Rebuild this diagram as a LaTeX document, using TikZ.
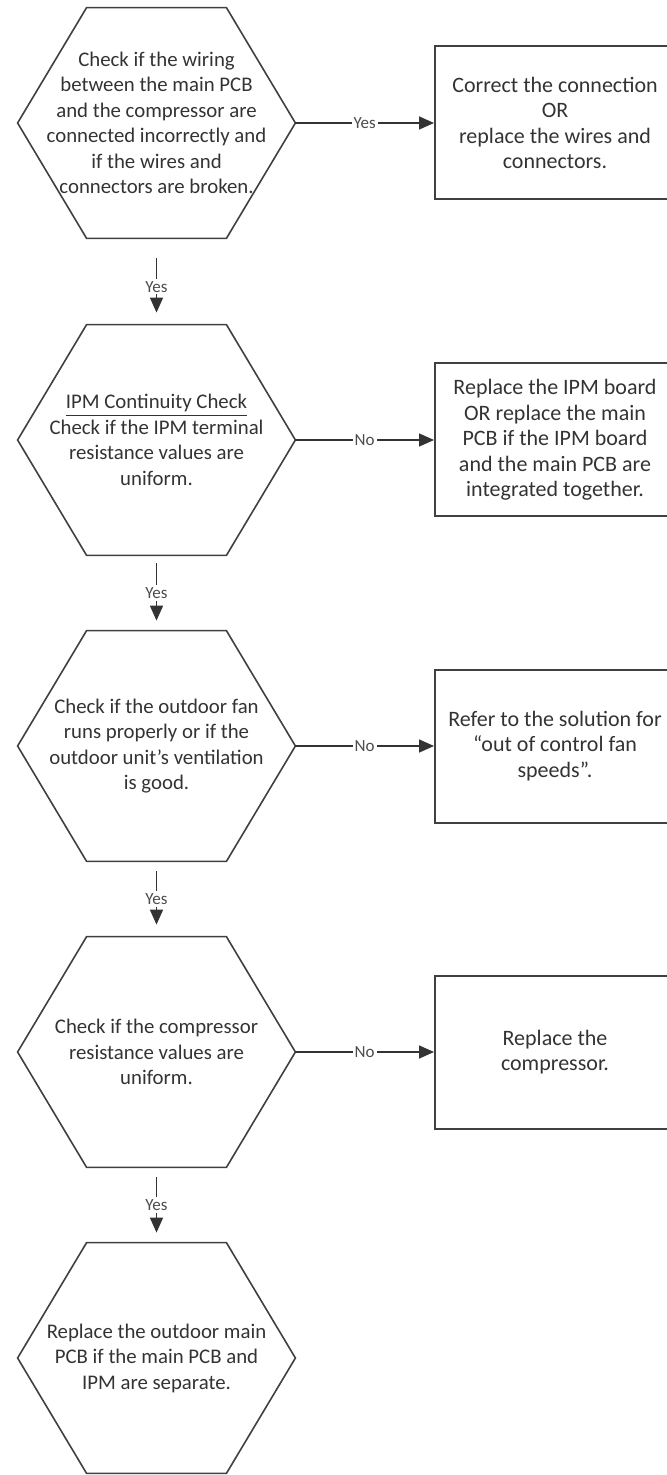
\documentclass[tikz,border=0pt]{standalone}
\usepackage{fontspec}
\setmainfont{Carlito}
\usetikzlibrary{arrows.meta}

\tikzset{
  hexnode/.style={minimum width=138.5pt, minimum height=115pt, align=center, inner sep=0pt,
    font=\fontsize{10.4}{12.75}\selectfont, text=black!80},
  hexline/.style={draw=black!75, line width=0.8pt},
  boxnode/.style={draw=black!75, line width=1pt, minimum width=120pt, minimum height=76.5pt,
    align=center, inner sep=0pt, font=\fontsize{11}{12.75}\selectfont, text=black!80},
  flow/.style={draw=black!80, line width=0.8pt, -{Triangle[length=7.5pt,width=6.5pt]}},
  tag/.style={fill=white, inner sep=1pt, font=\fontsize{8.5}{9}\selectfont, text=black!70},
}

\begin{document}
\begin{tikzpicture}[x=0.5pt, y=-0.5pt]
    \useasboundingbox (0,0) rectangle (667,1475);

    % checks
    \node[hexnode] (h1) at (156.5,123) {Check if the wiring\\between the main PCB\\and the compressor are\\connected incorrectly and\\if the wires and\\connectors are broken.};
    \node[hexnode] (h2) at (156.5,440) {\underline{IPM Continuity Check}\\Check if the IPM terminal\\resistance values are\\uniform.};
    \node[hexnode] (h3) at (156.5,746) {Check if the outdoor fan\\runs properly or if the\\outdoor unit's ventilation\\is good.};
    \node[hexnode] (h4) at (156.5,1052) {Check if the compressor\\resistance values are\\uniform.};
    \node[hexnode] (h5) at (156.5,1358) {Replace the outdoor main\\PCB if the main PCB and\\IPM are separate.};

    \foreach \h in {h1,h2,h3,h4,h5}
      \draw[hexline] (\h.west) -- ([xshift=34.5pt]\h.north west) -- ([xshift=-34.5pt]\h.north east)
        -- (\h.east) -- ([xshift=-34.5pt]\h.south east) -- ([xshift=34.5pt]\h.south west) -- cycle;

    % actions
    \node[boxnode] (b1) at (555,123) {Correct the connection\\OR\\replace the wires and\\connectors.};
    \node[boxnode] (b2) at (555,440) {Replace the IPM board\\OR replace the main\\PCB if the IPM board\\and the main PCB are\\integrated together.};
    \node[boxnode] (b3) at (555,746) {Refer to the solution for\\“out of control fan\\speeds”.};
    \node[boxnode] (b4) at (555,1052) {Replace the\\compressor.};

    % connectors
    \draw[flow] (h1.east) -- node[tag] {Yes} (b1.west);
    \draw[flow] (h2.east) -- node[tag] {No} (b2.west);
    \draw[flow] (h3.east) -- node[tag] {No} (b3.west);
    \draw[flow] (h4.east) -- node[tag] {No} (b4.west);

    \draw[flow, shorten <=10pt, shorten >=6pt] (h1.south) -- node[tag, pos=0.56] {Yes} (h2.north);
    \draw[flow, shorten <=4pt, shorten >=5pt] (h2.south) -- node[tag] {Yes} (h3.north);
    \draw[flow, shorten <=5pt, shorten >=6pt] (h3.south) -- node[tag] {Yes} (h4.north);
    \draw[flow, shorten <=5pt, shorten >=5pt] (h4.south) -- node[tag] {Yes} (h5.north);
\end{tikzpicture}
\end{document}
